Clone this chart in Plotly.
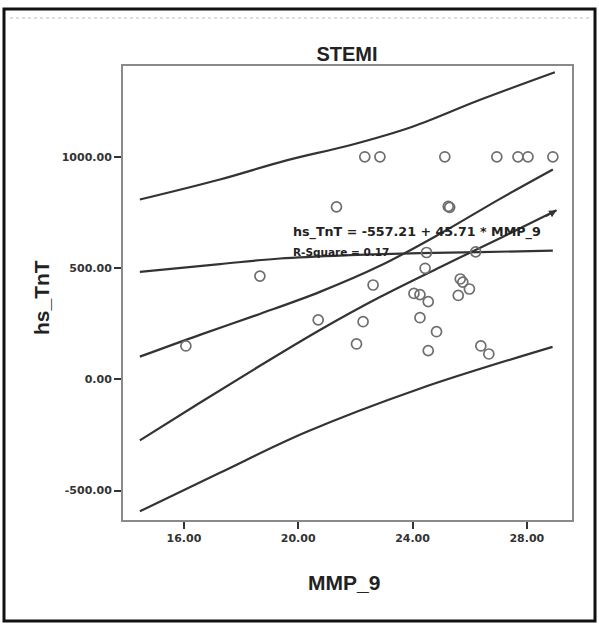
import plotly.graph_objects as go

# ---- data ----
mmp9 = [22.33, 22.86, 25.13, 26.95, 27.69, 28.04, 28.91,
        21.34, 25.25, 25.30, 26.21, 24.49, 24.44, 18.66, 22.62,
        24.05, 24.26, 24.55, 25.67, 25.76, 25.99, 25.60,
        20.70, 22.27, 24.26, 24.84, 22.04, 24.55, 26.39, 26.67, 16.07]
hs_tnt = [1000, 1000, 1000, 1000, 1000, 1000, 1000,
          775, 777, 773, 573, 570, 499, 464, 424,
          386, 381, 349, 451, 437, 406, 377,
          267, 259, 277, 214, 159, 129, 150, 114, 150]

# curves as drawn in the picture
upper_pi_x = [14.46, 17.26, 19.59, 21.81, 23.97, 26.30, 28.98]
upper_pi_y = [808, 898, 984, 1052, 1134, 1253, 1380]
lower_pi_x = [14.46, 17.26, 20.26, 24.27, 28.90]
lower_pi_y = [-593, -420, -238, -41, 146]
band_b_x = [14.46, 17.26, 19.36, 21.81, 24.26, 26.36, 28.91]
band_b_y = [483, 518, 543, 558, 567, 572, 578]
band_c_x = [14.46, 16.56, 18.66, 20.76, 22.86, 24.96, 27.06, 28.91]
band_c_y = [102, 200, 294, 393, 510, 654, 811, 943]
band_d_x = [14.46, 16.56, 18.66, 20.76, 22.86, 24.96, 27.06, 29.04]
band_d_y = [-274, -105, 61, 222, 370, 504, 634, 760]

x_ticks = [16, 20, 24, 28]
x_tick_labels = ["16.00", "20.00", "24.00", "28.00"]
y_ticks = [-500, 0, 500, 1000]
y_tick_labels = ["-500.00", "0.00", "500.00", "1000.00"]

equation_text = "hs_TnT = -557.21 + 45.71 * MMP_9"
rsq_text = "R-Square = 0.17"

LINE_COL = "#333333"
BOLD_FONT = "DejaVu Sans, Verdana, sans-serif"
fig = go.Figure()
for xs, ys in [(upper_pi_x, upper_pi_y), (lower_pi_x, lower_pi_y),
               (band_b_x, band_b_y), (band_c_x, band_c_y), (band_d_x, band_d_y)]:
    fig.add_trace(go.Scatter(x=xs, y=ys, mode="lines",
                             line=dict(color=LINE_COL, width=2.2, shape="spline"),
                             hoverinfo="skip", showlegend=False))

fig.add_trace(go.Scatter(x=mmp9, y=hs_tnt, mode="markers",
                         marker=dict(symbol="circle-open", size=10, color="#6e6e6e",
                                     line=dict(width=1.7)),
                         showlegend=False))

# plot box geometry (pixels)
L, R, T, B = 123, 572, 66, 520
W, H = 599, 625
def px(x):
    return (x - L) / (R - L)
def py(y):
    return (B - y) / (B - T)

tickfont = dict(size=11, color="#333", family=BOLD_FONT, weight="bold")
fig.update_layout(
    width=W, height=H,
    margin=dict(l=L, r=W - R, t=T, b=H - B, pad=0),
    paper_bgcolor="white", plot_bgcolor="white",
    font=dict(family="Liberation Sans, Arial, sans-serif", color="#222"),
    title=dict(text="<b>STEMI</b>", x=px(347), xref="paper", y=1 - 54 / H,
               yanchor="middle", xanchor="center",
               font=dict(size=20, color="#222")),
    xaxis=dict(range=[13.87, 29.58], tickvals=x_ticks, ticktext=x_tick_labels,
               showgrid=False, zeroline=False, showline=True, mirror=True,
               linecolor="#8a8a8a", linewidth=2, ticks="outside", ticklen=7,
               tickwidth=2, tickcolor="#333", tickfont=tickfont),
    yaxis=dict(range=[-632, 1408], tickvals=y_ticks, ticktext=y_tick_labels,
               showgrid=False, zeroline=False, showline=True, mirror=True,
               linecolor="#8a8a8a", linewidth=2, ticks="outside", ticklen=7,
               tickwidth=2, tickcolor="#333", tickfont=tickfont),
)

fig.add_annotation(text="<b>MMP_9</b>", xref="paper", yref="paper",
                   x=px(344), y=py(582), xanchor="center", yanchor="middle",
                   showarrow=False, font=dict(size=21, color="#222"))
fig.add_annotation(text="<b>hs_TnT</b>", xref="paper", yref="paper",
                   x=px(41), y=py(298), xanchor="center", yanchor="middle",
                   textangle=-90, showarrow=False, font=dict(size=21, color="#222"))

fig.add_annotation(text="<b>" + equation_text + "</b>", x=19.74, y=663, xanchor="left",
                   yanchor="middle", showarrow=False,
                   font=dict(size=12.7, color="#222", family=BOLD_FONT))
fig.add_annotation(text="<b>" + rsq_text + "</b>", x=19.74, y=574, xanchor="left",
                   yanchor="middle", showarrow=False,
                   font=dict(size=10.5, color="#222", family=BOLD_FONT))
fig.add_annotation(x=band_d_x[-1], y=band_d_y[-1], ax=-12, ay=7, showarrow=True,
                   arrowhead=2, arrowsize=1, arrowwidth=1.5, arrowcolor=LINE_COL, text="")

# outer frame
fig.add_shape(type="rect", xref="paper", yref="paper",
              x0=px(4), x1=px(595), y0=py(621), y1=py(9),
              line=dict(color="#111", width=3))
fig.add_shape(type="line", xref="paper", yref="paper",
              x0=px(10), x1=px(590), y0=py(18), y1=py(18),
              line=dict(color="#bbb", width=1, dash="dot"))

fig.write_html("out.html")
